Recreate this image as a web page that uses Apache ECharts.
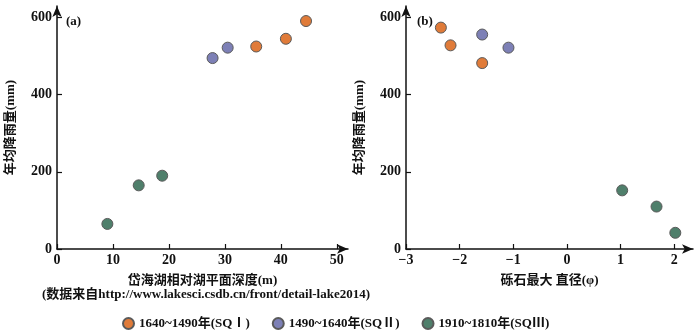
<!DOCTYPE html>
<html><head><meta charset="utf-8">
<script src="https://cdn.jsdelivr.net/npm/echarts@6/dist/echarts.min.js"></script>
<style>html,body{margin:0;padding:0;background:#fff}#c{width:700px;height:330px}</style>
</head><body><div id="c"></div>
<script>
// ---- data ----
const seriesNames = ['1640~1490年(SQⅠ)', '1490~1640年(SQⅡ)', '1910~1810年(SQⅢ)'];
const seriesColors = ['#e07b39', '#7d80b6', '#4f7f6b'];
// panel (a): depth (m) vs precipitation (mm)
const aOrangeX = [35.6, 40.9, 44.5];
const aOrangeY = [525, 545, 591];
const aBlueX = [27.8, 30.5];
const aBlueY = [495, 522];
const aGreenX = [9.0, 14.6, 18.8];
const aGreenY = [65, 165, 190];
// panel (b): max gravel diameter (phi) vs precipitation (mm)
const bOrangeX = [-2.35, -2.17, -1.58];
const bOrangeY = [574, 528, 482];
const bBlueX = [-1.58, -1.09];
const bBlueY = [556, 522];
const bGreenX = [1.03, 1.67, 2.02];
const bGreenY = [152, 110, 42];
// ticks
const yTicks = [0, 200, 400, 600];
const aXTicks = [0, 10, 20, 30, 40, 50];
const bXTicks = [-3, -2, -1, 0, 1, 2];
const yTitle = '年均降雨量(mm)';
const aXTitle = '岱海湖相对湖平面深度(m)';
const bXTitle = '砾石最大 直径(φ)';
const sourceNote = '(数据来自http://www.lakesci.csdb.cn/front/detail-lake2014)';

const zip = (xs, ys) => xs.map((x, i) => [x, ys[i]]);
const serif = 'Liberation Serif';
const cjk = '"Liberation Serif","Noto Sans CJK SC"';
const axisLine = {show: true, onZero: false, lineStyle: {color: '#111', width: 1.5}, symbol: ['none', 'arrow'], symbolSize: [7, 11]};
const tick = vals => ({show: true, inside: true, length: 5, lineStyle: {color: '#111', width: 1.2}, customValues: vals});
const lbl = (vals, extra) => Object.assign({color: '#111', fontFamily: serif, fontWeight: 'bold', fontSize: 14, customValues: vals, formatter: v => String(v).replace('-', '−')}, extra || {});

function xAx(grid, min, max, ticks, name) {
  return {type: 'value', gridIndex: grid, min: min, max: max, splitLine: {show: false},
    axisLine: axisLine, axisTick: tick(ticks), axisLabel: lbl(ticks, {margin: 4}),
    name: name, nameLocation: 'middle', nameGap: 25,
    nameTextStyle: {color: '#111', fontFamily: cjk, fontWeight: 'bold', fontSize: 13}};
}
function yAx(grid) {
  return {type: 'value', gridIndex: grid, min: 0, max: 630, splitLine: {show: false},
    axisLine: axisLine, axisTick: tick(yTicks), axisLabel: lbl(yTicks, {margin: 5}),
    name: yTitle, nameLocation: 'middle', nameGap: 40,
    nameTextStyle: {color: '#111', fontFamily: cjk, fontWeight: 'bold', fontSize: 13}};
}
function sc(name, ci, x, y, grid) {
  return {type: 'scatter', name: name, xAxisIndex: grid, yAxisIndex: grid, data: zip(x, y), symbolSize: 11,
    itemStyle: {color: seriesColors[ci], borderColor: '#5a5a5a', borderWidth: 1, opacity: 1}};
}
const chart = echarts.init(document.getElementById('c'), null, {renderer: 'canvas'});
chart.setOption({
  animation: false,
  backgroundColor: '#fff',
  grid: [
    {left: 57, top: 6, width: 291, height: 243},
    {left: 406, top: 6, width: 287, height: 243}
  ],
  xAxis: [xAx(0, 0, 52, aXTicks, aXTitle), xAx(1, -3, 2.35, bXTicks, bXTitle)],
  yAxis: [yAx(0), yAx(1)],
  legend: {
    data: seriesNames, left: 117, top: 312, itemWidth: 11, itemHeight: 11, itemGap: 22,
    icon: 'circle',
    textStyle: {color: '#111', fontFamily: cjk, fontWeight: 'bold', fontSize: 13}
  },
  graphic: [
    {type: 'text', left: 66, top: 15, style: {text: '(a)', font: 'bold 13px "Liberation Serif"', fill: '#111'}},
    {type: 'text', left: 417, top: 15, style: {text: '(b)', font: 'bold 13px "Liberation Serif"', fill: '#111'}},
    {type: 'text', left: 42, top: 288, style: {text: sourceNote, font: 'bold 13px "Liberation Serif","Noto Sans CJK SC"', fill: '#111'}}
  ],
  series: [
    sc(seriesNames[0], 0, aOrangeX, aOrangeY, 0),
    sc(seriesNames[1], 1, aBlueX, aBlueY, 0),
    sc(seriesNames[2], 2, aGreenX, aGreenY, 0),
    sc(seriesNames[0], 0, bOrangeX, bOrangeY, 1),
    sc(seriesNames[1], 1, bBlueX, bBlueY, 1),
    sc(seriesNames[2], 2, bGreenX, bGreenY, 1)
  ]
});
</script></body></html>
